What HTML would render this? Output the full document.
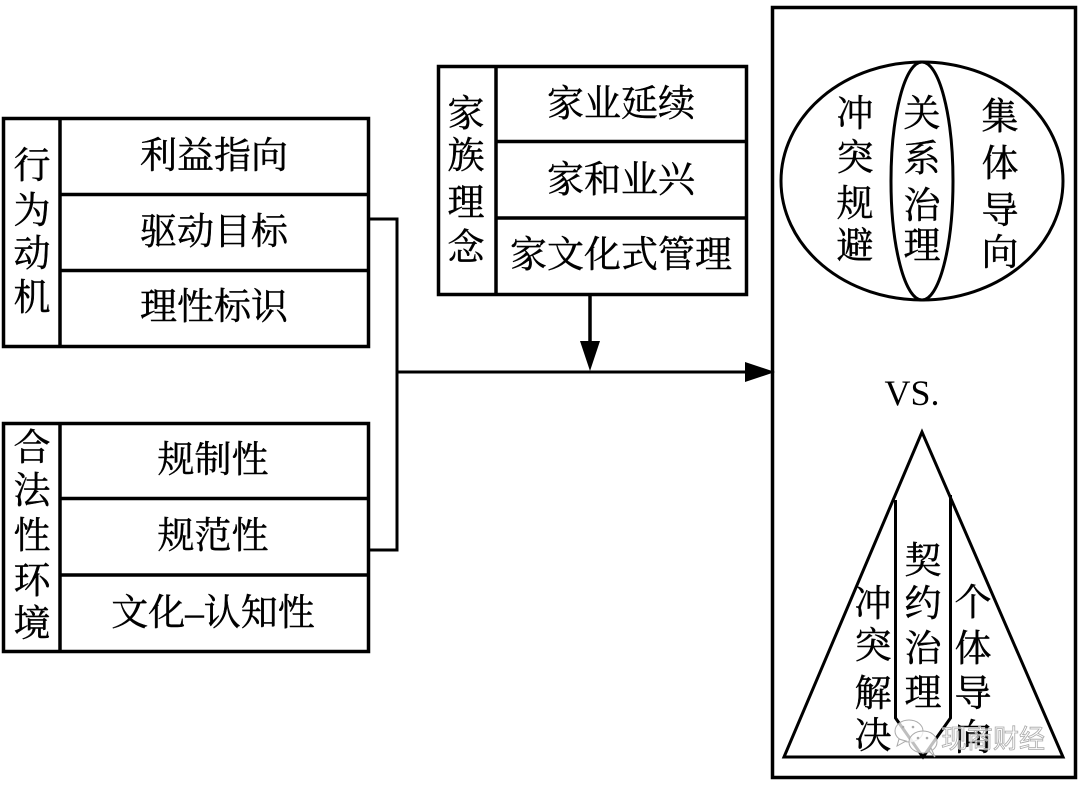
<!DOCTYPE html>
<html lang="zh">
<head>
<meta charset="utf-8">
<style>
html,body{margin:0;padding:0;background:#fff;width:1080px;height:786px;overflow:hidden}
svg{display:block}
text{font-family:"Liberation Serif","Noto Serif CJK SC",serif;font-size:37px;fill:#000;stroke:#000;stroke-width:.45;text-anchor:middle}
.l{fill:none;stroke:#000;stroke-width:3.5}
.t{fill:none;stroke:#000;stroke-width:3}
text.vs{font-size:36px;stroke-width:0}
text.wm{font-family:"Liberation Sans","Noto Sans CJK SC",sans-serif;font-size:26px;fill:#fff;fill-opacity:.6;stroke:#aaa;stroke-width:.8;text-anchor:start}
</style>
</head>
<body>
<svg width="1080" height="786" viewBox="0 0 1080 786" xmlns="http://www.w3.org/2000/svg">
<rect width="1080" height="786" fill="#fff"/>

<!-- Box 1 -->
<rect class="l" x="3.500" y="118.500" width="365" height="228"/>
<path class="l" d="M60 118V347M60 194.500H369M60 270.500H369"/>
<g>
<text x="32" y="178">行</text><text x="32" y="223">为</text><text x="32" y="266">动</text><text x="32" y="310">机</text>
<text x="214" y="168">利益指向</text><text x="214" y="244">驱动目标</text><text x="214" y="319">理性标识</text>
</g>

<!-- Box 2 -->
<rect class="l" x="3.500" y="423.500" width="365" height="228"/>
<path class="l" d="M60 423V652M60 498.500H369M60 575H369"/>
<g>
<text x="32" y="460">合</text><text x="32" y="503">法</text><text x="32" y="548">性</text><text x="32" y="593">环</text><text x="32" y="636">境</text>
<text x="213" y="472">规制性</text><text x="213" y="548">规范性</text><text x="213" y="625">文化–认知性</text>
</g>

<!-- Box 3 -->
<rect class="l" x="438.500" y="66.500" width="308" height="228"/>
<path class="l" d="M496 66V295M496 141.500H747M496 218H747"/>
<g>
<text x="466" y="126">家</text><text x="466" y="168">族</text><text x="466" y="215">理</text><text x="466" y="260">念</text>
<text x="621" y="116">家业延续</text><text x="621" y="192">家和业兴</text><text x="621" y="267">家文化式管理</text>
</g>

<!-- Connectors -->
<path class="t" d="M368 219H397V550H368"/>
<path class="t" d="M397 372H748"/>
<path class="l" d="M590 295V342"/>
<polygon points="580,341 600,341 590,371" fill="#000"/>
<polygon points="745,362 745,382 775,372" fill="#000"/>

<!-- Right panel -->
<rect class="l" x="772.500" y="7.500" width="303" height="770"/>
<ellipse class="t" cx="922" cy="181" rx="141" ry="119"/>
<ellipse class="t" cx="922" cy="181" rx="31" ry="119"/>
<g>
<text x="855" y="126">冲</text><text x="855" y="170">突</text><text x="855" y="216">规</text><text x="855" y="258">避</text>
<text x="922" y="126">关</text><text x="922" y="171">系</text><text x="922" y="218">治</text><text x="922" y="258">理</text>
<text x="1000" y="129">集</text><text x="1000" y="176">体</text><text x="1000" y="223">导</text><text x="1000" y="265">向</text>
</g>

<text class="vs" x="912" y="405">VS.</text>

<polygon class="t" points="922,432 784,757 1063,757"/>
<path class="t" d="M895.500 500V718L923 757L950.500 718V495"/>
<g>
<text x="873" y="616">冲</text><text x="873" y="658">突</text><text x="873" y="706">解</text><text x="873" y="748">决</text>
<text x="923" y="573">契</text><text x="923" y="616">约</text><text x="923" y="661">治</text><text x="923" y="705">理</text>
<text x="973" y="615">个</text><text x="973" y="661">体</text><text x="973" y="706">导</text><text x="973" y="750">向</text>
</g>

<!-- Watermark -->
<g fill="#fff" fill-opacity=".75" stroke="#aaa" stroke-width="1">
<ellipse cx="909" cy="731" rx="14" ry="11"/>
<path d="M899 739L897 746L906 741Z"/>
<ellipse cx="923" cy="742" rx="14" ry="11"/>
<path d="M929 751L935 757L931 748Z"/>
</g>
<g fill="#aaa"><circle cx="903" cy="727" r="1.300"/><circle cx="913" cy="727" r="1.300"/><circle cx="918" cy="738" r="1.300"/><circle cx="927" cy="738" r="1.300"/></g>
<text class="wm" x="941" y="748">现商财经</text>
</svg>
</body>
</html>
